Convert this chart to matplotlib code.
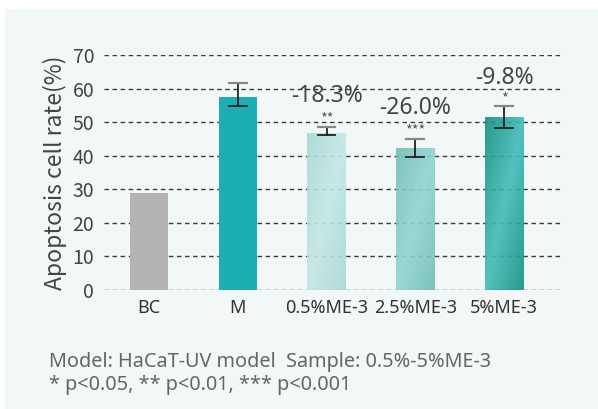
import numpy as np
import matplotlib
matplotlib.use("Agg")
import matplotlib.pyplot as plt
from matplotlib.patches import Rectangle
from matplotlib.colors import to_rgb

categories = ["BC", "M", "0.5%ME-3", "2.5%ME-3", "5%ME-3"]
values = [28.8, 57.5, 46.6, 42.3, 51.5]
err_high = [None, 61.7, 48.4, 45.0, 54.8]
err_low = [None, 54.7, 46.0, 39.7, 48.1]
change_labels = [None, None, "-18.3%", "-26.0%", "-9.8%"]
sig_labels = [None, None, "**", "***", "*"]
yticks = [0, 10, 20, 30, 40, 50, 60, 70]

CJK = ["Noto Sans CJK JP", "DejaVu Sans"]
WIDE = ["Noto Sans", "DejaVu Sans"]
plt.rcParams["font.family"] = CJK

fig = plt.figure(figsize=(5.98, 4.09), dpi=100)
fig.patch.set_facecolor("white")
fig.patches.append(Rectangle((5/598, 0), 1, 1 - 9/409, transform=fig.transFigure,
                             facecolor="#f2f8f8", edgecolor="none", zorder=-10))

ax = fig.add_axes([104/598, 0.2917, (561-104)/598, 0.5738])
ax.set_facecolor("none")
for s in ax.spines.values():
    s.set_visible(False)

x = np.arange(len(categories))
width = 0.43

ax.set_xlim(-0.506, 4.64)
ax.set_ylim(0, 70)
ax.set_yticks(yticks)
ax.set_yticklabels([str(v) for v in yticks], fontsize=14, color="#444444", family=CJK)
ax.set_xticks(x)
ax.set_xticklabels(categories, fontsize=13, color="#333333", family=WIDE)
ax.tick_params(axis="y", length=0, pad=7)
ax.tick_params(axis="x", length=0, pad=7)
ax.set_ylabel("Apoptosis cell rate(%)", fontsize=16.5, color="#444444", labelpad=4)

for yv in yticks:
    ax.axhline(yv, color="#3a3a3a", lw=1.0, dashes=(3.2, 2.6), zorder=1)

solid_colors = ["#b3b3b3", "#1caeb3"]
grad_colors = [
    ("#a8d8d4", "#c2e7e6"),
    ("#72bcb4", "#8fd6d1"),
    ("#12907f", "#41bbb7"),
]

bars = ax.bar(x, values, width=width, zorder=2)
for i, b in enumerate(bars):
    if i < 2:
        b.set_facecolor(solid_colors[i])
    else:
        edge, center = grad_colors[i - 2]
        b.set_facecolor("none")
        e = np.array(to_rgb(edge)); c = np.array(to_rgb(center))
        n = 200
        gx, gy = np.meshgrid(np.linspace(0, 1, n), np.linspace(0, 1, n))
        t = (gx + gy) / 2.0
        w = 1 - np.abs(t - 0.5) * 2
        img = e[None, None, :] * (1 - w[..., None]) + c[None, None, :] * w[..., None]
        x0 = b.get_x(); x1 = x0 + b.get_width(); y1 = b.get_height()
        im = ax.imshow(img, extent=(x0, x1, 0, y1), origin="upper", aspect="auto",
                       zorder=2, alpha=0.9)
        im.set_clip_path(b)

for i in range(len(categories)):
    if err_high[i] is None:
        continue
    ax.plot([x[i], x[i]], [err_low[i], err_high[i]], color="#222222", lw=1.3, zorder=4)
    ax.plot([x[i] - 0.1, x[i] + 0.1], [err_low[i], err_low[i]], color="#222222", lw=1.3, zorder=4)
    ax.plot([x[i] - 0.1, x[i] + 0.1], [err_high[i], err_high[i]], color="#888888", lw=1.6, zorder=4)

change_y = [None, None, 57.8, 54.2, 63.1]
sig_y = [None, None, 50.0, 46.4, 55.9]
for i in range(len(categories)):
    if change_labels[i]:
        ax.text(x[i], change_y[i], change_labels[i], ha="center", va="center",
                fontsize=16.5, color="#444444", zorder=5, family=WIDE)
    if sig_labels[i]:
        ax.text(x[i], sig_y[i], sig_labels[i], ha="center", va="baseline",
                fontsize=10.5, color="#555555", zorder=5)

fig.text(49/598, 1 - 362/409, "Model: HaCaT-UV model  Sample: 0.5%-5%ME-3",
         fontsize=14.3, color="#666666", va="center", ha="left", family=WIDE)
fig.text(49/598, 1 - 385/409, "* p<0.05, ** p<0.01, *** p<0.001",
         fontsize=14.3, color="#666666", va="center", ha="left", family=WIDE)

fig.savefig("out.png", dpi=100)
